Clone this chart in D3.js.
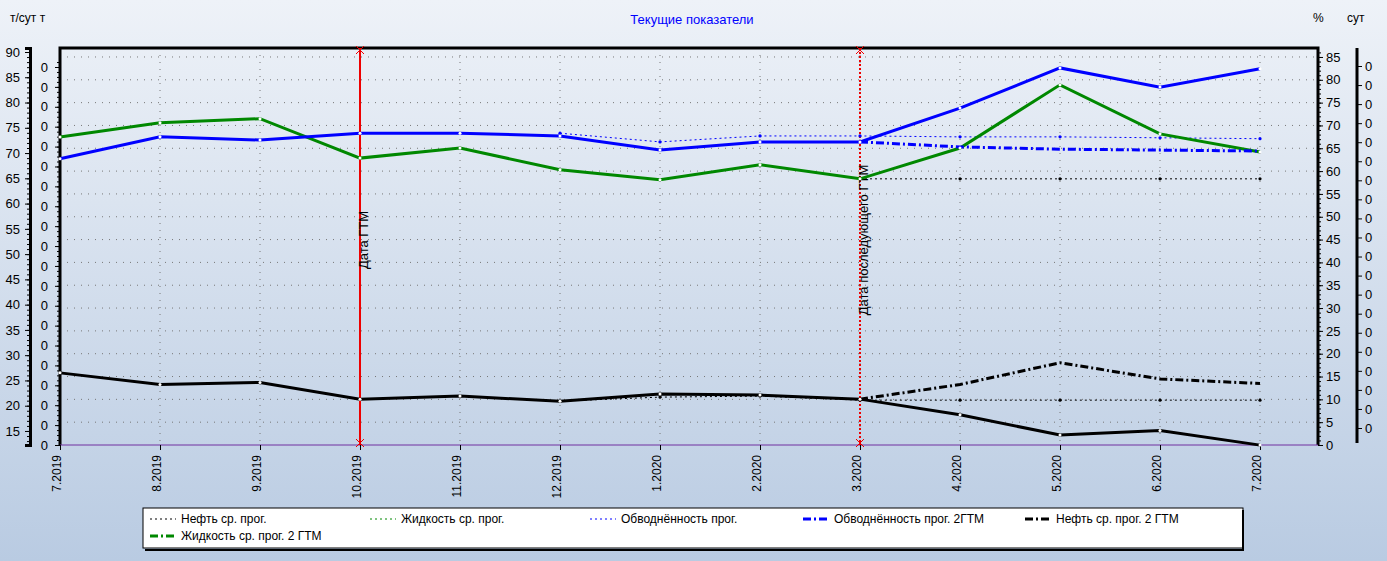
<!DOCTYPE html>
<html><head><meta charset="utf-8">
<script src="https://cdn.jsdelivr.net/npm/d3@7"></script>
<style>body{margin:0;overflow:hidden}text{font-family:"Liberation Sans",Arial,sans-serif}</style>
</head><body>
<script>
// data
const months = ["7.2019","8.2019","9.2019","10.2019","11.2019","12.2019","1.2020","2.2020","3.2020","4.2020","5.2020","6.2020","7.2020"];
const liquidFact = [73.2,76.0,76.8,69.0,71.0,66.7,64.7,67.7,64.9,71.0,83.5,73.8,70.2];
const liquidProg = [null,null,null,null,null,null,null,null,64.9,64.9,64.9,64.9,64.9];
const waterFact = [62.7,67.5,66.8,68.3,68.3,67.7,64.6,66.4,66.4,73.8,82.6,78.4,82.4];
const waterProg = [null,null,null,null,null,68.3,66.4,67.7,67.7,67.5,67.5,67.3,67.1];
const water2 = [null,null,null,null,null,null,null,null,66.4,65.3,64.8,64.6,64.4];
const oilFact = [26.5,24.2,24.6,21.3,21.9,20.9,22.3,22.1,21.3,18.2,14.2,15.1,12.2];
const oilProg = [null,null,null,null,null,20.9,21.7,21.9,21.1,21.1,21.1,21.1,21.1];
const oil2 = [null,null,null,null,null,null,null,null,21.3,24.2,28.5,25.3,24.4];
const leftTicks = d3.range(15,91,5);
const rightTicks = d3.range(0,86,5);
const events = [{m:"10.2019",label:"Дата ГТМ",dash:null},{m:"3.2020",label:"Дата последующего ГТМ",dash:"2,2"}];
const legendItems = [
  {name:"Нефть ср. прог.",color:"#000",w:1,dash:"2,3"},
  {name:"Жидкость ср. прог.",color:"#080",w:1,dash:"2,3"},
  {name:"Обводнённость прог.",color:"#00f",w:1,dash:"2,3"},
  {name:"Обводнённость прог. 2ГТМ",color:"#00f",w:3,dash:"8,3,2,3"},
  {name:"Нефть ср. прог. 2 ГТМ",color:"#000",w:3,dash:"8,3,2,3"},
  {name:"Жидкость ср. прог. 2 ГТМ",color:"#080",w:3,dash:"8,3,2,3"}
];

const W=1387,H=561, L=60, R=1318, T=48, B=445;
const svg=d3.select("body").append("svg").attr("width",W).attr("height",H);
const g=svg.append("defs").append("linearGradient").attr("id","bg").attr("x1",0).attr("y1",0).attr("x2",0).attr("y2",1);
g.append("stop").attr("offset","0%").attr("stop-color","#eef2f8");
g.append("stop").attr("offset","100%").attr("stop-color","#b9cbe2");
svg.append("rect").attr("width",W).attr("height",H).attr("fill","url(#bg)");

const x=d3.scalePoint().domain(months).range([L,1260]);
const yL=d3.scaleLinear().domain([90+(52-T)/5.053, 90-(B-52)/5.053]).range([T,B]);
const yR=d3.scaleLinear().domain([0,(B-T)/4.565]).range([B,T]);

// grid
svg.append("g").selectAll("line").data(rightTicks.slice(1)).join("line")
  .attr("x1",L).attr("x2",R).attr("y1",d=>yR(d)).attr("y2",d=>yR(d))
  .attr("stroke","#777").attr("stroke-dasharray","1,6");
svg.append("g").selectAll("line").data(months.slice(1)).join("line")
  .attr("x1",d=>x(d)).attr("x2",d=>x(d)).attr("y1",T).attr("y2",B)
  .attr("stroke","#777").attr("stroke-dasharray","1,6");

// plot frame
svg.append("path").attr("d",`M${L},${B}V${T}H${R}V${B}`).attr("fill","none").attr("stroke","#000").attr("stroke-width",3);
svg.append("line").attr("x1",L).attr("x2",R).attr("y1",B).attr("y2",B).attr("stroke","#7030a0").attr("stroke-width",1);

// axes
const ax1=svg.append("g").attr("transform","translate(30,0)").call(d3.axisLeft(yL).tickValues(leftTicks).tickSize(5));
ax1.select(".domain").attr("stroke-width",3);
ax1.selectAll("text").attr("font-size",13).attr("dx",-2);
const minor1=svg.append("g").attr("transform","translate(30,0)").call(d3.axisLeft(yL).tickValues(d3.range(13,91,1)).tickSize(3).tickFormat(""));
minor1.select(".domain").remove();

const yT=d3.scaleLinear().domain([0,19]).range([B,67]);
const ax2=svg.append("g").attr("transform",`translate(${L},0)`).call(d3.axisLeft(yT).ticks(19).tickSize(5).tickFormat(()=> "0"));
ax2.select(".domain").remove();
ax2.selectAll("text").attr("font-size",13).attr("dx",-4);
const ax2m=svg.append("g").attr("transform",`translate(${L},0)`).call(d3.axisLeft(yT).tickValues(d3.range(0,19.5,0.25)).tickSize(3).tickFormat(""));
ax2m.select(".domain").remove();

const ax3=svg.append("g").attr("transform",`translate(${R},0)`).call(d3.axisRight(yR).tickValues(rightTicks).tickSize(5));
ax3.select(".domain").remove();
ax3.selectAll("text").attr("font-size",13);
const ax3m=svg.append("g").attr("transform",`translate(${R},0)`).call(d3.axisRight(yR).tickValues(d3.range(0,87,1)).tickSize(3).tickFormat(""));
ax3m.select(".domain").remove();

const yS=d3.scaleLinear().domain([0,19]).range([428,66]);
const ax4=svg.append("g").attr("transform","translate(1357,0)").call(d3.axisRight(yS).ticks(19).tickSize(5).tickFormat(()=> "0"));
ax4.select(".domain").attr("d","M0,48V443").attr("stroke-width",3);
ax4.selectAll("text").attr("font-size",13);

const xa=svg.append("g").attr("transform",`translate(0,${B})`).call(d3.axisBottom(x).tickSize(5));
xa.select(".domain").remove();
xa.selectAll("text").attr("font-size",12).attr("transform","rotate(-90)").attr("text-anchor","end")
  .attr("x",-10).attr("y",-4).attr("dy","0.35em");

// titles
svg.append("text").attr("x",692).attr("y",24).attr("text-anchor","middle").attr("fill","#00f").attr("font-size",13).text("Текущие показатели");
svg.append("text").attr("x",10).attr("y",22).attr("font-size",12).text("т/сут  т");
svg.append("text").attr("x",1313).attr("y",22).attr("font-size",12).text("%");
svg.append("text").attr("x",1347).attr("y",22).attr("font-size",12).text("сут");

// events
events.forEach(e=>{
  const xx=x(e.m);
  svg.append("line").attr("x1",xx).attr("x2",xx).attr("y1",T).attr("y2",B).attr("stroke","#e00").attr("stroke-width",2).attr("stroke-dasharray",e.dash);
  [T+2,B-2].forEach(yy=>svg.append("path").attr("d",`M${xx-4},${yy-4}L${xx+4},${yy+4}M${xx-4},${yy+4}L${xx+4},${yy-4}`).attr("stroke","#e00"));
  svg.append("text").attr("transform",`translate(${xx+8},240) rotate(-90)`).attr("text-anchor","middle").attr("font-size",13).text(e.label);
});

// lines
function draw(data,scale,color,w,dash,markers){
  const line=d3.line().defined(d=>d!=null).x((d,i)=>x(months[i])).y(d=>scale(d));
  svg.append("path").datum(data).attr("d",line).attr("fill","none").attr("stroke",color).attr("stroke-width",w).attr("stroke-dasharray",dash);
  if(markers) svg.append("g").selectAll("circle").data(data.map((d,i)=>[d,i]).filter(p=>p[0]!=null)).join("circle")
    .attr("cx",p=>x(months[p[1]])).attr("cy",p=>scale(p[0])).attr("r",1.6).attr("fill",color);
}
draw(oilProg,yL,"#000",1,"2,3",true);
draw(liquidProg,yL,"#000",1,"2,3",true);
draw(waterProg,yR,"#00f",1,"2,3",true);
draw(liquidFact,yL,"#080",3,null,false);
draw(waterFact,yR,"#00f",3,null,false);
draw(oilFact,yL,"#000",3,null,false);
draw(water2,yR,"#00f",3,"8,3,2,3",false);
draw(oil2,yL,"#000",3,"8,3,2,3",false);
[liquidFact,waterFact,oilFact].forEach((s,k)=>svg.append("g").selectAll("circle").data(s).join("circle")
  .attr("cx",(d,i)=>x(months[i])).attr("cy",d=>(k==1?yR:yL)(d)).attr("r",1.5).attr("fill","#fff"));

// legend
svg.append("rect").attr("x",143).attr("y",508).attr("width",1100).attr("height",40).attr("fill","#fff").attr("stroke","#000");
svg.append("path").attr("d","M1243,510V550H145").attr("fill","none").attr("stroke","#000").attr("stroke-width",2);
const lx=[150,370,590,803,1025,150];
legendItems.forEach((d,i)=>{
  const yy=i<5?519:536;
  svg.append("line").attr("x1",lx[i]).attr("x2",lx[i]+26).attr("y1",yy).attr("y2",yy).attr("stroke",d.color).attr("stroke-width",d.w).attr("stroke-dasharray",d.dash);
  svg.append("text").attr("x",lx[i]+31).attr("y",yy+4).attr("font-size",12).text(d.name);
});
</script>
</body></html>
